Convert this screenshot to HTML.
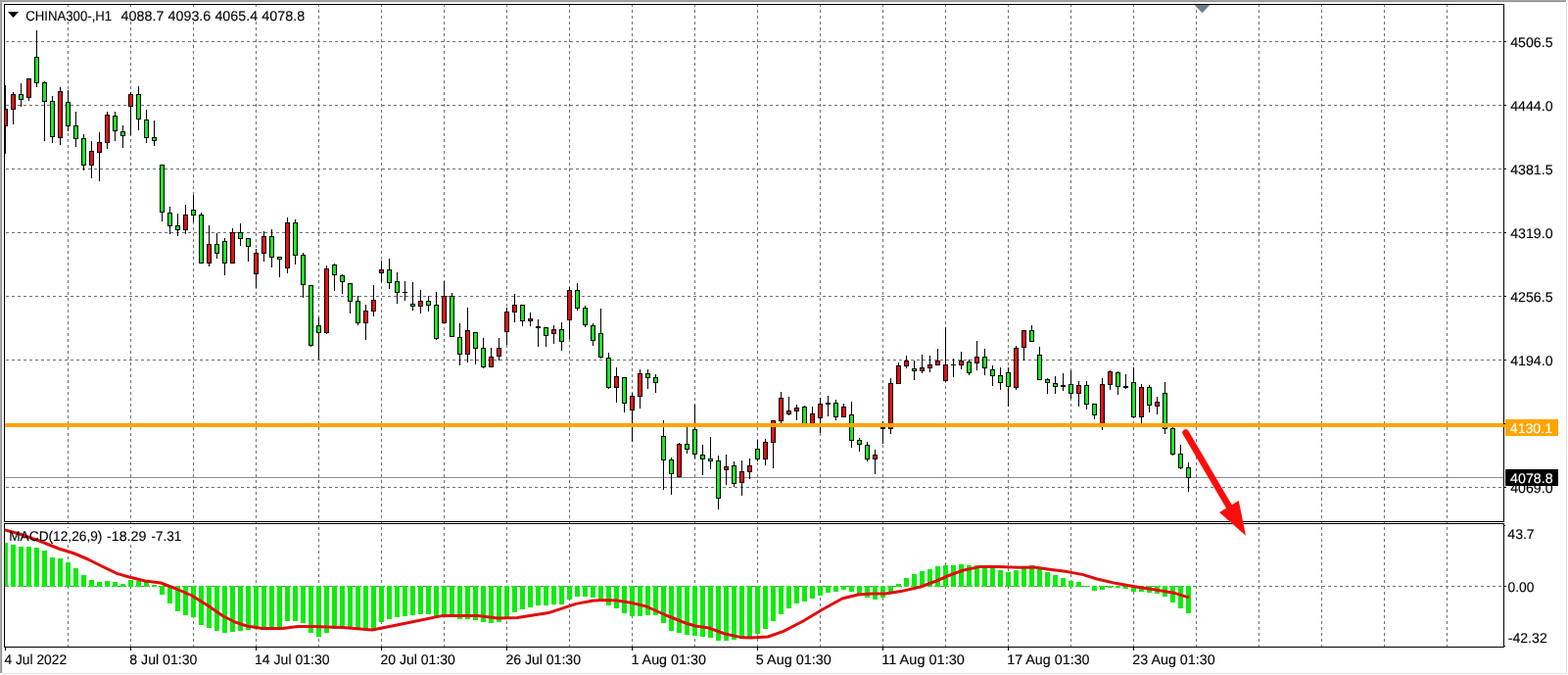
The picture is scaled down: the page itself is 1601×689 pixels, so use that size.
<!DOCTYPE html>
<html lang="en"><head><meta charset="utf-8"><title>CHINA300-,H1</title>
<style>
html,body{margin:0;padding:0;background:#fff;}
body{width:1601px;height:689px;overflow:hidden;}
svg{display:block;}
</style></head><body>
<svg width="1601" height="689" viewBox="0 0 1601 689" shape-rendering="crispEdges" font-family="'Liberation Sans', Arial, sans-serif" font-size="14px">
<defs><clipPath id="cm"><rect x="5" y="5" width="1530" height="527"/></clipPath><clipPath id="ci"><rect x="5" y="535" width="1530" height="125"/></clipPath></defs>
<rect x="0" y="0" width="1601" height="689" fill="#ffffff"/>
<rect x="0" y="0" width="1599" height="1" fill="#a6a6a6"/>
<rect x="0" y="1" width="1599" height="1" fill="#939393"/>
<rect x="0" y="2" width="1599" height="1" fill="#f4f4f4"/>
<rect x="0" y="0" width="1" height="687" fill="#a9a9a9"/>
<rect x="1" y="1" width="1" height="686" fill="#8f8f8f"/>
<rect x="2" y="2" width="1" height="685" fill="#f2f2f2"/>
<rect x="1599" y="2" width="1" height="686" fill="#dfdfe2"/>
<rect x="2" y="687" width="1598" height="1" fill="#e3e3e3"/>
<g id="grid" stroke="#6f6f73" stroke-width="1" fill="none" stroke-dasharray="3 3">
<line x1="69.5" y1="4" x2="69.5" y2="532"/>
<line x1="69.5" y1="532" x2="69.5" y2="660" stroke-dashoffset="0"/>
<line x1="133.5" y1="4" x2="133.5" y2="532"/>
<line x1="133.5" y1="532" x2="133.5" y2="660" stroke-dashoffset="0"/>
<line x1="197.5" y1="4" x2="197.5" y2="532"/>
<line x1="197.5" y1="532" x2="197.5" y2="660" stroke-dashoffset="0"/>
<line x1="261.5" y1="4" x2="261.5" y2="532"/>
<line x1="261.5" y1="532" x2="261.5" y2="660" stroke-dashoffset="0"/>
<line x1="325.5" y1="4" x2="325.5" y2="532"/>
<line x1="325.5" y1="532" x2="325.5" y2="660" stroke-dashoffset="0"/>
<line x1="389.5" y1="4" x2="389.5" y2="532"/>
<line x1="389.5" y1="532" x2="389.5" y2="660" stroke-dashoffset="0"/>
<line x1="453.5" y1="4" x2="453.5" y2="532"/>
<line x1="453.5" y1="532" x2="453.5" y2="660" stroke-dashoffset="0"/>
<line x1="517.5" y1="4" x2="517.5" y2="532"/>
<line x1="517.5" y1="532" x2="517.5" y2="660" stroke-dashoffset="0"/>
<line x1="581.5" y1="4" x2="581.5" y2="532"/>
<line x1="581.5" y1="532" x2="581.5" y2="660" stroke-dashoffset="0"/>
<line x1="645.5" y1="4" x2="645.5" y2="532"/>
<line x1="645.5" y1="532" x2="645.5" y2="660" stroke-dashoffset="0"/>
<line x1="709.5" y1="4" x2="709.5" y2="532"/>
<line x1="709.5" y1="532" x2="709.5" y2="660" stroke-dashoffset="0"/>
<line x1="773.5" y1="4" x2="773.5" y2="532"/>
<line x1="773.5" y1="532" x2="773.5" y2="660" stroke-dashoffset="0"/>
<line x1="837.5" y1="4" x2="837.5" y2="532"/>
<line x1="837.5" y1="532" x2="837.5" y2="660" stroke-dashoffset="0"/>
<line x1="901.5" y1="4" x2="901.5" y2="532"/>
<line x1="901.5" y1="532" x2="901.5" y2="660" stroke-dashoffset="0"/>
<line x1="965.5" y1="4" x2="965.5" y2="532"/>
<line x1="965.5" y1="532" x2="965.5" y2="660" stroke-dashoffset="0"/>
<line x1="1029.5" y1="4" x2="1029.5" y2="532"/>
<line x1="1029.5" y1="532" x2="1029.5" y2="660" stroke-dashoffset="0"/>
<line x1="1093.5" y1="4" x2="1093.5" y2="532"/>
<line x1="1093.5" y1="532" x2="1093.5" y2="660" stroke-dashoffset="0"/>
<line x1="1157.5" y1="4" x2="1157.5" y2="532"/>
<line x1="1157.5" y1="532" x2="1157.5" y2="660" stroke-dashoffset="0"/>
<line x1="1221.5" y1="4" x2="1221.5" y2="532"/>
<line x1="1221.5" y1="532" x2="1221.5" y2="660" stroke-dashoffset="0"/>
<line x1="1285.5" y1="4" x2="1285.5" y2="532"/>
<line x1="1285.5" y1="532" x2="1285.5" y2="660" stroke-dashoffset="0"/>
<line x1="1349.5" y1="4" x2="1349.5" y2="532"/>
<line x1="1349.5" y1="532" x2="1349.5" y2="660" stroke-dashoffset="0"/>
<line x1="1413.5" y1="4" x2="1413.5" y2="532"/>
<line x1="1413.5" y1="532" x2="1413.5" y2="660" stroke-dashoffset="0"/>
<line x1="1477.5" y1="4" x2="1477.5" y2="532"/>
<line x1="1477.5" y1="532" x2="1477.5" y2="660" stroke-dashoffset="0"/>
<line x1="6" y1="42.5" x2="1535" y2="42.5"/>
<line x1="6" y1="107.5" x2="1535" y2="107.5"/>
<line x1="6" y1="172.5" x2="1535" y2="172.5"/>
<line x1="6" y1="237.5" x2="1535" y2="237.5"/>
<line x1="6" y1="302.5" x2="1535" y2="302.5"/>
<line x1="6" y1="367.5" x2="1535" y2="367.5"/>
<line x1="6" y1="432.5" x2="1535" y2="432.5"/>
<line x1="6" y1="497.5" x2="1535" y2="497.5"/>
<line x1="6" y1="598.5" x2="1535" y2="598.5"/>
</g>
<rect x="24" y="8" width="289" height="14" fill="#fff"/>
<rect x="5" y="487" width="1530" height="1" fill="#8b9097"/>
<g id="candles" clip-path="url(#cm)">
<rect x="5" y="87" width="1" height="70" fill="#000"/>
<rect x="3" y="111" width="5" height="18" fill="#000"/>
<rect x="4" y="112" width="3" height="16" fill="#e61012"/>
<rect x="13" y="94" width="1" height="33" fill="#000"/>
<rect x="11" y="96" width="5" height="16" fill="#000"/>
<rect x="12" y="97" width="3" height="14" fill="#e61012"/>
<rect x="21" y="85" width="1" height="24" fill="#000"/>
<rect x="19" y="96" width="5" height="6" fill="#000"/>
<rect x="20" y="97" width="3" height="4" fill="#18ea20"/>
<rect x="29" y="80" width="1" height="23" fill="#000"/>
<rect x="27" y="80" width="5" height="20" fill="#000"/>
<rect x="28" y="81" width="3" height="18" fill="#e61012"/>
<rect x="37" y="31" width="1" height="58" fill="#000"/>
<rect x="35" y="58" width="5" height="27" fill="#000"/>
<rect x="36" y="59" width="3" height="25" fill="#18ea20"/>
<rect x="45" y="83" width="1" height="61" fill="#000"/>
<rect x="43" y="84" width="5" height="20" fill="#000"/>
<rect x="44" y="85" width="3" height="18" fill="#18ea20"/>
<rect x="53" y="98" width="1" height="48" fill="#000"/>
<rect x="51" y="103" width="5" height="37" fill="#000"/>
<rect x="52" y="104" width="3" height="35" fill="#18ea20"/>
<rect x="61" y="89" width="1" height="59" fill="#000"/>
<rect x="59" y="93" width="5" height="48" fill="#000"/>
<rect x="60" y="94" width="3" height="46" fill="#e61012"/>
<rect x="69" y="92" width="1" height="42" fill="#000"/>
<rect x="67" y="104" width="5" height="25" fill="#000"/>
<rect x="68" y="105" width="3" height="23" fill="#18ea20"/>
<rect x="77" y="114" width="1" height="36" fill="#000"/>
<rect x="75" y="128" width="5" height="14" fill="#000"/>
<rect x="76" y="129" width="3" height="12" fill="#18ea20"/>
<rect x="85" y="137" width="1" height="37" fill="#000"/>
<rect x="83" y="141" width="5" height="28" fill="#000"/>
<rect x="84" y="142" width="3" height="26" fill="#18ea20"/>
<rect x="93" y="144" width="1" height="38" fill="#000"/>
<rect x="91" y="154" width="5" height="15" fill="#000"/>
<rect x="92" y="155" width="3" height="13" fill="#e61012"/>
<rect x="101" y="135" width="1" height="50" fill="#000"/>
<rect x="99" y="145" width="5" height="11" fill="#000"/>
<rect x="100" y="146" width="3" height="9" fill="#e61012"/>
<rect x="109" y="114" width="1" height="38" fill="#000"/>
<rect x="107" y="117" width="5" height="29" fill="#000"/>
<rect x="108" y="118" width="3" height="27" fill="#e61012"/>
<rect x="117" y="114" width="1" height="30" fill="#000"/>
<rect x="115" y="118" width="5" height="16" fill="#000"/>
<rect x="116" y="119" width="3" height="14" fill="#18ea20"/>
<rect x="125" y="128" width="1" height="23" fill="#000"/>
<rect x="123" y="134" width="5" height="5" fill="#000"/>
<rect x="124" y="135" width="3" height="3" fill="#18ea20"/>
<rect x="133" y="94" width="1" height="44" fill="#000"/>
<rect x="131" y="96" width="5" height="13" fill="#000"/>
<rect x="132" y="97" width="3" height="11" fill="#e61012"/>
<rect x="141" y="88" width="1" height="45" fill="#000"/>
<rect x="139" y="96" width="5" height="26" fill="#000"/>
<rect x="140" y="97" width="3" height="24" fill="#18ea20"/>
<rect x="149" y="112" width="1" height="34" fill="#000"/>
<rect x="147" y="122" width="5" height="19" fill="#000"/>
<rect x="148" y="123" width="3" height="17" fill="#18ea20"/>
<rect x="157" y="123" width="1" height="26" fill="#000"/>
<rect x="155" y="140" width="5" height="4" fill="#000"/>
<rect x="156" y="141" width="3" height="2" fill="#18ea20"/>
<rect x="165" y="168" width="1" height="58" fill="#000"/>
<rect x="163" y="168" width="5" height="49" fill="#000"/>
<rect x="164" y="169" width="3" height="47" fill="#18ea20"/>
<rect x="173" y="211" width="1" height="28" fill="#000"/>
<rect x="171" y="217" width="5" height="14" fill="#000"/>
<rect x="172" y="218" width="3" height="12" fill="#18ea20"/>
<rect x="181" y="218" width="1" height="23" fill="#000"/>
<rect x="179" y="230" width="5" height="5" fill="#000"/>
<rect x="180" y="231" width="3" height="3" fill="#18ea20"/>
<rect x="189" y="209" width="1" height="30" fill="#000"/>
<rect x="187" y="219" width="5" height="16" fill="#000"/>
<rect x="188" y="220" width="3" height="14" fill="#e61012"/>
<rect x="197" y="199" width="1" height="28" fill="#000"/>
<rect x="195" y="214" width="5" height="6" fill="#000"/>
<rect x="196" y="215" width="3" height="4" fill="#18ea20"/>
<rect x="205" y="217" width="1" height="52" fill="#000"/>
<rect x="203" y="219" width="5" height="50" fill="#000"/>
<rect x="204" y="220" width="3" height="48" fill="#18ea20"/>
<rect x="213" y="230" width="1" height="42" fill="#000"/>
<rect x="211" y="249" width="5" height="20" fill="#000"/>
<rect x="212" y="250" width="3" height="18" fill="#e61012"/>
<rect x="221" y="238" width="1" height="26" fill="#000"/>
<rect x="219" y="249" width="5" height="10" fill="#000"/>
<rect x="220" y="250" width="3" height="8" fill="#18ea20"/>
<rect x="229" y="243" width="1" height="38" fill="#000"/>
<rect x="227" y="246" width="5" height="23" fill="#000"/>
<rect x="228" y="247" width="3" height="21" fill="#18ea20"/>
<rect x="237" y="233" width="1" height="36" fill="#000"/>
<rect x="235" y="237" width="5" height="32" fill="#000"/>
<rect x="236" y="238" width="3" height="30" fill="#e61012"/>
<rect x="245" y="228" width="1" height="23" fill="#000"/>
<rect x="243" y="237" width="5" height="7" fill="#000"/>
<rect x="244" y="238" width="3" height="5" fill="#18ea20"/>
<rect x="253" y="243" width="1" height="24" fill="#000"/>
<rect x="251" y="243" width="5" height="9" fill="#000"/>
<rect x="252" y="244" width="3" height="7" fill="#18ea20"/>
<rect x="261" y="254" width="1" height="40" fill="#000"/>
<rect x="259" y="258" width="5" height="22" fill="#000"/>
<rect x="260" y="259" width="3" height="20" fill="#e61012"/>
<rect x="269" y="236" width="1" height="31" fill="#000"/>
<rect x="267" y="241" width="5" height="18" fill="#000"/>
<rect x="268" y="242" width="3" height="16" fill="#e61012"/>
<rect x="277" y="234" width="1" height="39" fill="#000"/>
<rect x="275" y="241" width="5" height="22" fill="#000"/>
<rect x="276" y="242" width="3" height="20" fill="#18ea20"/>
<rect x="285" y="262" width="1" height="21" fill="#000"/>
<rect x="283" y="262" width="5" height="3" fill="#000"/>
<rect x="284" y="263" width="3" height="1" fill="#18ea20"/>
<rect x="293" y="222" width="1" height="57" fill="#000"/>
<rect x="291" y="227" width="5" height="47" fill="#000"/>
<rect x="292" y="228" width="3" height="45" fill="#e61012"/>
<rect x="301" y="224" width="1" height="46" fill="#000"/>
<rect x="299" y="227" width="5" height="34" fill="#000"/>
<rect x="300" y="228" width="3" height="32" fill="#18ea20"/>
<rect x="309" y="258" width="1" height="46" fill="#000"/>
<rect x="307" y="260" width="5" height="31" fill="#000"/>
<rect x="308" y="261" width="3" height="29" fill="#18ea20"/>
<rect x="317" y="291" width="1" height="63" fill="#000"/>
<rect x="315" y="291" width="5" height="62" fill="#000"/>
<rect x="316" y="292" width="3" height="60" fill="#18ea20"/>
<rect x="325" y="324" width="1" height="43" fill="#000"/>
<rect x="323" y="332" width="5" height="8" fill="#000"/>
<rect x="324" y="333" width="3" height="6" fill="#18ea20"/>
<rect x="333" y="271" width="1" height="70" fill="#000"/>
<rect x="331" y="274" width="5" height="66" fill="#000"/>
<rect x="332" y="275" width="3" height="64" fill="#e61012"/>
<rect x="341" y="269" width="1" height="28" fill="#000"/>
<rect x="339" y="270" width="5" height="11" fill="#000"/>
<rect x="340" y="271" width="3" height="9" fill="#18ea20"/>
<rect x="349" y="280" width="1" height="20" fill="#000"/>
<rect x="347" y="281" width="5" height="7" fill="#000"/>
<rect x="348" y="282" width="3" height="5" fill="#18ea20"/>
<rect x="357" y="289" width="1" height="31" fill="#000"/>
<rect x="355" y="289" width="5" height="19" fill="#000"/>
<rect x="356" y="290" width="3" height="17" fill="#18ea20"/>
<rect x="365" y="302" width="1" height="30" fill="#000"/>
<rect x="363" y="307" width="5" height="23" fill="#000"/>
<rect x="364" y="308" width="3" height="21" fill="#18ea20"/>
<rect x="373" y="311" width="1" height="36" fill="#000"/>
<rect x="371" y="317" width="5" height="13" fill="#000"/>
<rect x="372" y="318" width="3" height="11" fill="#e61012"/>
<rect x="381" y="291" width="1" height="32" fill="#000"/>
<rect x="379" y="306" width="5" height="12" fill="#000"/>
<rect x="380" y="307" width="3" height="10" fill="#e61012"/>
<rect x="389" y="266" width="1" height="22" fill="#000"/>
<rect x="387" y="275" width="5" height="4" fill="#000"/>
<rect x="388" y="276" width="3" height="2" fill="#e61012"/>
<rect x="397" y="264" width="1" height="31" fill="#000"/>
<rect x="395" y="275" width="5" height="14" fill="#000"/>
<rect x="396" y="276" width="3" height="12" fill="#18ea20"/>
<rect x="405" y="278" width="1" height="32" fill="#000"/>
<rect x="403" y="287" width="5" height="12" fill="#000"/>
<rect x="404" y="288" width="3" height="10" fill="#18ea20"/>
<rect x="413" y="287" width="1" height="20" fill="#000"/>
<rect x="411" y="298" width="5" height="1" fill="#000"/>
<rect x="421" y="288" width="1" height="29" fill="#000"/>
<rect x="419" y="310" width="5" height="3" fill="#000"/>
<rect x="420" y="311" width="3" height="1" fill="#18ea20"/>
<rect x="429" y="296" width="1" height="24" fill="#000"/>
<rect x="427" y="307" width="5" height="6" fill="#000"/>
<rect x="428" y="308" width="3" height="4" fill="#e61012"/>
<rect x="437" y="302" width="1" height="16" fill="#000"/>
<rect x="435" y="307" width="5" height="5" fill="#000"/>
<rect x="436" y="308" width="3" height="3" fill="#18ea20"/>
<rect x="445" y="298" width="1" height="49" fill="#000"/>
<rect x="443" y="311" width="5" height="35" fill="#000"/>
<rect x="444" y="312" width="3" height="33" fill="#18ea20"/>
<rect x="453" y="287" width="1" height="43" fill="#000"/>
<rect x="451" y="302" width="5" height="28" fill="#000"/>
<rect x="452" y="303" width="3" height="26" fill="#e61012"/>
<rect x="461" y="299" width="1" height="45" fill="#000"/>
<rect x="459" y="302" width="5" height="42" fill="#000"/>
<rect x="460" y="303" width="3" height="40" fill="#18ea20"/>
<rect x="469" y="330" width="1" height="43" fill="#000"/>
<rect x="467" y="344" width="5" height="18" fill="#000"/>
<rect x="468" y="345" width="3" height="16" fill="#18ea20"/>
<rect x="477" y="314" width="1" height="56" fill="#000"/>
<rect x="475" y="337" width="5" height="25" fill="#000"/>
<rect x="476" y="338" width="3" height="23" fill="#e61012"/>
<rect x="485" y="339" width="1" height="33" fill="#000"/>
<rect x="483" y="339" width="5" height="17" fill="#000"/>
<rect x="484" y="340" width="3" height="15" fill="#18ea20"/>
<rect x="493" y="345" width="1" height="31" fill="#000"/>
<rect x="491" y="355" width="5" height="20" fill="#000"/>
<rect x="492" y="356" width="3" height="18" fill="#18ea20"/>
<rect x="501" y="355" width="1" height="20" fill="#000"/>
<rect x="499" y="364" width="5" height="11" fill="#000"/>
<rect x="500" y="365" width="3" height="9" fill="#e61012"/>
<rect x="509" y="345" width="1" height="23" fill="#000"/>
<rect x="507" y="355" width="5" height="9" fill="#000"/>
<rect x="508" y="356" width="3" height="7" fill="#e61012"/>
<rect x="517" y="314" width="1" height="38" fill="#000"/>
<rect x="515" y="318" width="5" height="21" fill="#000"/>
<rect x="516" y="319" width="3" height="19" fill="#e61012"/>
<rect x="525" y="300" width="1" height="29" fill="#000"/>
<rect x="523" y="311" width="5" height="8" fill="#000"/>
<rect x="524" y="312" width="3" height="6" fill="#e61012"/>
<rect x="533" y="311" width="1" height="22" fill="#000"/>
<rect x="531" y="311" width="5" height="17" fill="#000"/>
<rect x="532" y="312" width="3" height="15" fill="#18ea20"/>
<rect x="541" y="319" width="1" height="14" fill="#000"/>
<rect x="539" y="325" width="5" height="3" fill="#000"/>
<rect x="540" y="326" width="3" height="1" fill="#e61012"/>
<rect x="549" y="326" width="1" height="28" fill="#000"/>
<rect x="547" y="333" width="5" height="2" fill="#000"/>
<rect x="557" y="334" width="1" height="20" fill="#000"/>
<rect x="555" y="334" width="5" height="9" fill="#000"/>
<rect x="556" y="335" width="3" height="7" fill="#18ea20"/>
<rect x="565" y="332" width="1" height="19" fill="#000"/>
<rect x="563" y="336" width="5" height="5" fill="#000"/>
<rect x="564" y="337" width="3" height="3" fill="#e61012"/>
<rect x="573" y="329" width="1" height="29" fill="#000"/>
<rect x="571" y="336" width="5" height="13" fill="#000"/>
<rect x="572" y="337" width="3" height="11" fill="#18ea20"/>
<rect x="581" y="293" width="1" height="53" fill="#000"/>
<rect x="579" y="296" width="5" height="31" fill="#000"/>
<rect x="580" y="297" width="3" height="29" fill="#e61012"/>
<rect x="589" y="289" width="1" height="28" fill="#000"/>
<rect x="587" y="296" width="5" height="19" fill="#000"/>
<rect x="588" y="297" width="3" height="17" fill="#18ea20"/>
<rect x="597" y="312" width="1" height="22" fill="#000"/>
<rect x="595" y="314" width="5" height="18" fill="#000"/>
<rect x="596" y="315" width="3" height="16" fill="#18ea20"/>
<rect x="605" y="330" width="1" height="23" fill="#000"/>
<rect x="603" y="332" width="5" height="16" fill="#000"/>
<rect x="604" y="333" width="3" height="14" fill="#18ea20"/>
<rect x="613" y="315" width="1" height="51" fill="#000"/>
<rect x="611" y="340" width="5" height="25" fill="#000"/>
<rect x="612" y="341" width="3" height="23" fill="#18ea20"/>
<rect x="621" y="360" width="1" height="37" fill="#000"/>
<rect x="619" y="365" width="5" height="31" fill="#000"/>
<rect x="620" y="366" width="3" height="29" fill="#18ea20"/>
<rect x="629" y="375" width="1" height="36" fill="#000"/>
<rect x="627" y="384" width="5" height="12" fill="#000"/>
<rect x="628" y="385" width="3" height="10" fill="#e61012"/>
<rect x="637" y="385" width="1" height="36" fill="#000"/>
<rect x="635" y="385" width="5" height="27" fill="#000"/>
<rect x="636" y="386" width="3" height="25" fill="#18ea20"/>
<rect x="645" y="401" width="1" height="50" fill="#000"/>
<rect x="643" y="404" width="5" height="15" fill="#000"/>
<rect x="644" y="405" width="3" height="13" fill="#e61012"/>
<rect x="653" y="377" width="1" height="40" fill="#000"/>
<rect x="651" y="381" width="5" height="24" fill="#000"/>
<rect x="652" y="382" width="3" height="22" fill="#e61012"/>
<rect x="661" y="377" width="1" height="20" fill="#000"/>
<rect x="659" y="381" width="5" height="5" fill="#000"/>
<rect x="660" y="382" width="3" height="3" fill="#18ea20"/>
<rect x="669" y="382" width="1" height="19" fill="#000"/>
<rect x="667" y="385" width="5" height="6" fill="#000"/>
<rect x="668" y="386" width="3" height="4" fill="#18ea20"/>
<rect x="677" y="429" width="1" height="71" fill="#000"/>
<rect x="675" y="445" width="5" height="25" fill="#000"/>
<rect x="676" y="446" width="3" height="23" fill="#18ea20"/>
<rect x="685" y="467" width="1" height="38" fill="#000"/>
<rect x="683" y="469" width="5" height="15" fill="#000"/>
<rect x="684" y="470" width="3" height="13" fill="#18ea20"/>
<rect x="693" y="452" width="1" height="35" fill="#000"/>
<rect x="691" y="453" width="5" height="34" fill="#000"/>
<rect x="692" y="454" width="3" height="32" fill="#e61012"/>
<rect x="701" y="436" width="1" height="27" fill="#000"/>
<rect x="699" y="453" width="5" height="6" fill="#000"/>
<rect x="700" y="454" width="3" height="4" fill="#18ea20"/>
<rect x="709" y="413" width="1" height="55" fill="#000"/>
<rect x="707" y="438" width="5" height="26" fill="#000"/>
<rect x="708" y="439" width="3" height="24" fill="#18ea20"/>
<rect x="717" y="454" width="1" height="31" fill="#000"/>
<rect x="715" y="464" width="5" height="5" fill="#000"/>
<rect x="716" y="465" width="3" height="3" fill="#18ea20"/>
<rect x="725" y="446" width="1" height="33" fill="#000"/>
<rect x="723" y="468" width="5" height="3" fill="#000"/>
<rect x="724" y="469" width="3" height="1" fill="#18ea20"/>
<rect x="733" y="465" width="1" height="55" fill="#000"/>
<rect x="731" y="470" width="5" height="39" fill="#000"/>
<rect x="732" y="471" width="3" height="37" fill="#18ea20"/>
<rect x="741" y="464" width="1" height="31" fill="#000"/>
<rect x="739" y="476" width="5" height="4" fill="#000"/>
<rect x="740" y="477" width="3" height="2" fill="#e61012"/>
<rect x="749" y="471" width="1" height="26" fill="#000"/>
<rect x="747" y="475" width="5" height="19" fill="#000"/>
<rect x="748" y="476" width="3" height="17" fill="#18ea20"/>
<rect x="757" y="470" width="1" height="36" fill="#000"/>
<rect x="755" y="481" width="5" height="12" fill="#000"/>
<rect x="756" y="482" width="3" height="10" fill="#e61012"/>
<rect x="765" y="468" width="1" height="21" fill="#000"/>
<rect x="763" y="475" width="5" height="7" fill="#000"/>
<rect x="764" y="476" width="3" height="5" fill="#e61012"/>
<rect x="773" y="449" width="1" height="22" fill="#000"/>
<rect x="771" y="458" width="5" height="11" fill="#000"/>
<rect x="772" y="459" width="3" height="9" fill="#18ea20"/>
<rect x="781" y="448" width="1" height="27" fill="#000"/>
<rect x="779" y="451" width="5" height="18" fill="#000"/>
<rect x="780" y="452" width="3" height="16" fill="#e61012"/>
<rect x="789" y="429" width="1" height="49" fill="#000"/>
<rect x="787" y="429" width="5" height="23" fill="#000"/>
<rect x="788" y="430" width="3" height="21" fill="#e61012"/>
<rect x="797" y="400" width="1" height="33" fill="#000"/>
<rect x="795" y="406" width="5" height="24" fill="#000"/>
<rect x="796" y="407" width="3" height="22" fill="#e61012"/>
<rect x="805" y="405" width="1" height="19" fill="#000"/>
<rect x="803" y="419" width="5" height="4" fill="#000"/>
<rect x="804" y="420" width="3" height="2" fill="#e61012"/>
<rect x="813" y="413" width="1" height="16" fill="#000"/>
<rect x="811" y="416" width="5" height="4" fill="#000"/>
<rect x="812" y="417" width="3" height="2" fill="#e61012"/>
<rect x="821" y="414" width="1" height="20" fill="#000"/>
<rect x="819" y="415" width="5" height="18" fill="#000"/>
<rect x="820" y="416" width="3" height="16" fill="#18ea20"/>
<rect x="829" y="415" width="1" height="19" fill="#000"/>
<rect x="827" y="422" width="5" height="11" fill="#000"/>
<rect x="828" y="423" width="3" height="9" fill="#e61012"/>
<rect x="837" y="406" width="1" height="36" fill="#000"/>
<rect x="835" y="412" width="5" height="15" fill="#000"/>
<rect x="836" y="413" width="3" height="13" fill="#e61012"/>
<rect x="845" y="404" width="1" height="21" fill="#000"/>
<rect x="843" y="411" width="5" height="2" fill="#000"/>
<rect x="853" y="408" width="1" height="21" fill="#000"/>
<rect x="851" y="411" width="5" height="15" fill="#000"/>
<rect x="852" y="412" width="3" height="13" fill="#18ea20"/>
<rect x="861" y="412" width="1" height="14" fill="#000"/>
<rect x="859" y="415" width="5" height="11" fill="#000"/>
<rect x="860" y="416" width="3" height="9" fill="#e61012"/>
<rect x="869" y="410" width="1" height="47" fill="#000"/>
<rect x="867" y="423" width="5" height="27" fill="#000"/>
<rect x="868" y="424" width="3" height="25" fill="#18ea20"/>
<rect x="877" y="447" width="1" height="14" fill="#000"/>
<rect x="875" y="449" width="5" height="5" fill="#000"/>
<rect x="876" y="450" width="3" height="3" fill="#18ea20"/>
<rect x="885" y="451" width="1" height="20" fill="#000"/>
<rect x="883" y="454" width="5" height="15" fill="#000"/>
<rect x="884" y="455" width="3" height="13" fill="#18ea20"/>
<rect x="893" y="459" width="1" height="25" fill="#000"/>
<rect x="891" y="464" width="5" height="5" fill="#000"/>
<rect x="892" y="465" width="3" height="3" fill="#e61012"/>
<rect x="901" y="430" width="1" height="23" fill="#000"/>
<rect x="899" y="436" width="5" height="2" fill="#000"/>
<rect x="909" y="386" width="1" height="57" fill="#000"/>
<rect x="907" y="391" width="5" height="47" fill="#000"/>
<rect x="908" y="392" width="3" height="45" fill="#e61012"/>
<rect x="917" y="370" width="1" height="22" fill="#000"/>
<rect x="915" y="373" width="5" height="19" fill="#000"/>
<rect x="916" y="374" width="3" height="17" fill="#e61012"/>
<rect x="925" y="363" width="1" height="13" fill="#000"/>
<rect x="923" y="368" width="5" height="6" fill="#000"/>
<rect x="924" y="369" width="3" height="4" fill="#e61012"/>
<rect x="933" y="368" width="1" height="20" fill="#000"/>
<rect x="931" y="376" width="5" height="3" fill="#000"/>
<rect x="932" y="377" width="3" height="1" fill="#18ea20"/>
<rect x="941" y="362" width="1" height="19" fill="#000"/>
<rect x="939" y="375" width="5" height="4" fill="#000"/>
<rect x="940" y="376" width="3" height="2" fill="#e61012"/>
<rect x="949" y="363" width="1" height="17" fill="#000"/>
<rect x="947" y="372" width="5" height="4" fill="#000"/>
<rect x="948" y="373" width="3" height="2" fill="#e61012"/>
<rect x="957" y="356" width="1" height="17" fill="#000"/>
<rect x="955" y="368" width="5" height="5" fill="#000"/>
<rect x="956" y="369" width="3" height="3" fill="#e61012"/>
<rect x="965" y="334" width="1" height="56" fill="#000"/>
<rect x="963" y="372" width="5" height="17" fill="#000"/>
<rect x="964" y="373" width="3" height="15" fill="#e61012"/>
<rect x="973" y="366" width="1" height="19" fill="#000"/>
<rect x="971" y="372" width="5" height="1" fill="#000"/>
<rect x="981" y="359" width="1" height="18" fill="#000"/>
<rect x="979" y="368" width="5" height="5" fill="#000"/>
<rect x="980" y="369" width="3" height="3" fill="#e61012"/>
<rect x="989" y="367" width="1" height="16" fill="#000"/>
<rect x="987" y="369" width="5" height="12" fill="#000"/>
<rect x="988" y="370" width="3" height="10" fill="#18ea20"/>
<rect x="997" y="348" width="1" height="30" fill="#000"/>
<rect x="995" y="364" width="5" height="7" fill="#000"/>
<rect x="996" y="365" width="3" height="5" fill="#e61012"/>
<rect x="1005" y="356" width="1" height="27" fill="#000"/>
<rect x="1003" y="364" width="5" height="12" fill="#000"/>
<rect x="1004" y="365" width="3" height="10" fill="#18ea20"/>
<rect x="1013" y="373" width="1" height="21" fill="#000"/>
<rect x="1011" y="377" width="5" height="7" fill="#000"/>
<rect x="1012" y="378" width="3" height="5" fill="#18ea20"/>
<rect x="1021" y="375" width="1" height="23" fill="#000"/>
<rect x="1019" y="383" width="5" height="8" fill="#000"/>
<rect x="1020" y="384" width="3" height="6" fill="#18ea20"/>
<rect x="1029" y="375" width="1" height="40" fill="#000"/>
<rect x="1027" y="380" width="5" height="15" fill="#000"/>
<rect x="1028" y="381" width="3" height="13" fill="#18ea20"/>
<rect x="1037" y="353" width="1" height="45" fill="#000"/>
<rect x="1035" y="355" width="5" height="41" fill="#000"/>
<rect x="1036" y="356" width="3" height="39" fill="#e61012"/>
<rect x="1045" y="337" width="1" height="31" fill="#000"/>
<rect x="1043" y="337" width="5" height="18" fill="#000"/>
<rect x="1044" y="338" width="3" height="16" fill="#e61012"/>
<rect x="1053" y="332" width="1" height="17" fill="#000"/>
<rect x="1051" y="337" width="5" height="12" fill="#000"/>
<rect x="1052" y="338" width="3" height="10" fill="#18ea20"/>
<rect x="1061" y="354" width="1" height="34" fill="#000"/>
<rect x="1059" y="362" width="5" height="26" fill="#000"/>
<rect x="1060" y="363" width="3" height="24" fill="#18ea20"/>
<rect x="1069" y="386" width="1" height="16" fill="#000"/>
<rect x="1067" y="387" width="5" height="4" fill="#000"/>
<rect x="1068" y="388" width="3" height="2" fill="#18ea20"/>
<rect x="1077" y="384" width="1" height="18" fill="#000"/>
<rect x="1075" y="391" width="5" height="4" fill="#000"/>
<rect x="1076" y="392" width="3" height="2" fill="#18ea20"/>
<rect x="1085" y="381" width="1" height="18" fill="#000"/>
<rect x="1083" y="393" width="5" height="2" fill="#000"/>
<rect x="1093" y="378" width="1" height="29" fill="#000"/>
<rect x="1091" y="392" width="5" height="10" fill="#000"/>
<rect x="1092" y="393" width="3" height="8" fill="#18ea20"/>
<rect x="1101" y="389" width="1" height="26" fill="#000"/>
<rect x="1099" y="393" width="5" height="9" fill="#000"/>
<rect x="1100" y="394" width="3" height="7" fill="#e61012"/>
<rect x="1109" y="389" width="1" height="29" fill="#000"/>
<rect x="1107" y="393" width="5" height="20" fill="#000"/>
<rect x="1108" y="394" width="3" height="18" fill="#18ea20"/>
<rect x="1117" y="412" width="1" height="16" fill="#000"/>
<rect x="1115" y="412" width="5" height="12" fill="#000"/>
<rect x="1116" y="413" width="3" height="10" fill="#18ea20"/>
<rect x="1125" y="386" width="1" height="53" fill="#000"/>
<rect x="1123" y="392" width="5" height="43" fill="#000"/>
<rect x="1124" y="393" width="3" height="41" fill="#e61012"/>
<rect x="1133" y="378" width="1" height="20" fill="#000"/>
<rect x="1131" y="379" width="5" height="14" fill="#000"/>
<rect x="1132" y="380" width="3" height="12" fill="#e61012"/>
<rect x="1141" y="379" width="1" height="24" fill="#000"/>
<rect x="1139" y="380" width="5" height="15" fill="#000"/>
<rect x="1140" y="381" width="3" height="13" fill="#18ea20"/>
<rect x="1149" y="382" width="1" height="15" fill="#000"/>
<rect x="1147" y="394" width="5" height="2" fill="#000"/>
<rect x="1157" y="375" width="1" height="52" fill="#000"/>
<rect x="1155" y="390" width="5" height="36" fill="#000"/>
<rect x="1156" y="391" width="3" height="34" fill="#18ea20"/>
<rect x="1165" y="392" width="1" height="40" fill="#000"/>
<rect x="1163" y="395" width="5" height="31" fill="#000"/>
<rect x="1164" y="396" width="3" height="29" fill="#e61012"/>
<rect x="1173" y="393" width="1" height="28" fill="#000"/>
<rect x="1171" y="395" width="5" height="19" fill="#000"/>
<rect x="1172" y="396" width="3" height="17" fill="#18ea20"/>
<rect x="1181" y="405" width="1" height="18" fill="#000"/>
<rect x="1179" y="410" width="5" height="5" fill="#000"/>
<rect x="1180" y="411" width="3" height="3" fill="#e61012"/>
<rect x="1189" y="390" width="1" height="53" fill="#000"/>
<rect x="1187" y="401" width="5" height="37" fill="#000"/>
<rect x="1188" y="402" width="3" height="35" fill="#18ea20"/>
<rect x="1197" y="436" width="1" height="29" fill="#000"/>
<rect x="1195" y="437" width="5" height="27" fill="#000"/>
<rect x="1196" y="438" width="3" height="25" fill="#18ea20"/>
<rect x="1205" y="454" width="1" height="25" fill="#000"/>
<rect x="1203" y="463" width="5" height="15" fill="#000"/>
<rect x="1204" y="464" width="3" height="13" fill="#18ea20"/>
<rect x="1213" y="472" width="1" height="30" fill="#000"/>
<rect x="1211" y="477" width="5" height="11" fill="#000"/>
<rect x="1212" y="478" width="3" height="9" fill="#18ea20"/>
</g>
<rect x="8" y="539" width="178" height="15" fill="#fff"/>
<g id="macd" clip-path="url(#ci)">
<rect x="3" y="554" width="5" height="45" fill="#0cec0c"/>
<rect x="11" y="556" width="5" height="43" fill="#0cec0c"/>
<rect x="19" y="558" width="5" height="41" fill="#0cec0c"/>
<rect x="27" y="558" width="5" height="41" fill="#0cec0c"/>
<rect x="35" y="559" width="5" height="40" fill="#0cec0c"/>
<rect x="43" y="562" width="5" height="37" fill="#0cec0c"/>
<rect x="51" y="569" width="5" height="30" fill="#0cec0c"/>
<rect x="59" y="570" width="5" height="29" fill="#0cec0c"/>
<rect x="67" y="574" width="5" height="25" fill="#0cec0c"/>
<rect x="75" y="580" width="5" height="19" fill="#0cec0c"/>
<rect x="83" y="587" width="5" height="12" fill="#0cec0c"/>
<rect x="91" y="592" width="5" height="7" fill="#0cec0c"/>
<rect x="99" y="594" width="5" height="5" fill="#0cec0c"/>
<rect x="107" y="593" width="5" height="6" fill="#0cec0c"/>
<rect x="115" y="594" width="5" height="5" fill="#0cec0c"/>
<rect x="123" y="596" width="5" height="3" fill="#0cec0c"/>
<rect x="131" y="592" width="5" height="7" fill="#0cec0c"/>
<rect x="139" y="593" width="5" height="6" fill="#0cec0c"/>
<rect x="147" y="594" width="5" height="5" fill="#0cec0c"/>
<rect x="155" y="597" width="5" height="2" fill="#0cec0c"/>
<rect x="163" y="598" width="5" height="9" fill="#0cec0c"/>
<rect x="171" y="598" width="5" height="18" fill="#0cec0c"/>
<rect x="179" y="598" width="5" height="26" fill="#0cec0c"/>
<rect x="187" y="598" width="5" height="30" fill="#0cec0c"/>
<rect x="195" y="598" width="5" height="32" fill="#0cec0c"/>
<rect x="203" y="598" width="5" height="40" fill="#0cec0c"/>
<rect x="211" y="598" width="5" height="43" fill="#0cec0c"/>
<rect x="219" y="598" width="5" height="46" fill="#0cec0c"/>
<rect x="227" y="598" width="5" height="48" fill="#0cec0c"/>
<rect x="235" y="598" width="5" height="47" fill="#0cec0c"/>
<rect x="243" y="598" width="5" height="46" fill="#0cec0c"/>
<rect x="251" y="598" width="5" height="45" fill="#0cec0c"/>
<rect x="259" y="598" width="5" height="44" fill="#0cec0c"/>
<rect x="267" y="598" width="5" height="42" fill="#0cec0c"/>
<rect x="275" y="598" width="5" height="42" fill="#0cec0c"/>
<rect x="283" y="598" width="5" height="42" fill="#0cec0c"/>
<rect x="291" y="598" width="5" height="36" fill="#0cec0c"/>
<rect x="299" y="598" width="5" height="36" fill="#0cec0c"/>
<rect x="307" y="598" width="5" height="38" fill="#0cec0c"/>
<rect x="315" y="598" width="5" height="48" fill="#0cec0c"/>
<rect x="323" y="598" width="5" height="52" fill="#0cec0c"/>
<rect x="331" y="598" width="5" height="48" fill="#0cec0c"/>
<rect x="339" y="598" width="5" height="44" fill="#0cec0c"/>
<rect x="347" y="598" width="5" height="43" fill="#0cec0c"/>
<rect x="355" y="598" width="5" height="43" fill="#0cec0c"/>
<rect x="363" y="598" width="5" height="43" fill="#0cec0c"/>
<rect x="371" y="598" width="5" height="44" fill="#0cec0c"/>
<rect x="379" y="598" width="5" height="44" fill="#0cec0c"/>
<rect x="387" y="598" width="5" height="37" fill="#0cec0c"/>
<rect x="395" y="598" width="5" height="34" fill="#0cec0c"/>
<rect x="403" y="598" width="5" height="32" fill="#0cec0c"/>
<rect x="411" y="598" width="5" height="31" fill="#0cec0c"/>
<rect x="419" y="598" width="5" height="30" fill="#0cec0c"/>
<rect x="427" y="598" width="5" height="29" fill="#0cec0c"/>
<rect x="435" y="598" width="5" height="29" fill="#0cec0c"/>
<rect x="443" y="598" width="5" height="31" fill="#0cec0c"/>
<rect x="451" y="598" width="5" height="30" fill="#0cec0c"/>
<rect x="459" y="598" width="5" height="31" fill="#0cec0c"/>
<rect x="467" y="598" width="5" height="34" fill="#0cec0c"/>
<rect x="475" y="598" width="5" height="34" fill="#0cec0c"/>
<rect x="483" y="598" width="5" height="35" fill="#0cec0c"/>
<rect x="491" y="598" width="5" height="37" fill="#0cec0c"/>
<rect x="499" y="598" width="5" height="38" fill="#0cec0c"/>
<rect x="507" y="598" width="5" height="37" fill="#0cec0c"/>
<rect x="515" y="598" width="5" height="32" fill="#0cec0c"/>
<rect x="523" y="598" width="5" height="27" fill="#0cec0c"/>
<rect x="531" y="598" width="5" height="24" fill="#0cec0c"/>
<rect x="539" y="598" width="5" height="22" fill="#0cec0c"/>
<rect x="547" y="598" width="5" height="20" fill="#0cec0c"/>
<rect x="555" y="598" width="5" height="20" fill="#0cec0c"/>
<rect x="563" y="598" width="5" height="19" fill="#0cec0c"/>
<rect x="571" y="598" width="5" height="19" fill="#0cec0c"/>
<rect x="579" y="598" width="5" height="14" fill="#0cec0c"/>
<rect x="587" y="598" width="5" height="11" fill="#0cec0c"/>
<rect x="595" y="598" width="5" height="11" fill="#0cec0c"/>
<rect x="603" y="598" width="5" height="12" fill="#0cec0c"/>
<rect x="611" y="598" width="5" height="15" fill="#0cec0c"/>
<rect x="619" y="598" width="5" height="20" fill="#0cec0c"/>
<rect x="627" y="598" width="5" height="23" fill="#0cec0c"/>
<rect x="635" y="598" width="5" height="28" fill="#0cec0c"/>
<rect x="643" y="598" width="5" height="31" fill="#0cec0c"/>
<rect x="651" y="598" width="5" height="31" fill="#0cec0c"/>
<rect x="659" y="598" width="5" height="30" fill="#0cec0c"/>
<rect x="667" y="598" width="5" height="30" fill="#0cec0c"/>
<rect x="675" y="598" width="5" height="38" fill="#0cec0c"/>
<rect x="683" y="598" width="5" height="46" fill="#0cec0c"/>
<rect x="691" y="598" width="5" height="48" fill="#0cec0c"/>
<rect x="699" y="598" width="5" height="50" fill="#0cec0c"/>
<rect x="707" y="598" width="5" height="51" fill="#0cec0c"/>
<rect x="715" y="598" width="5" height="52" fill="#0cec0c"/>
<rect x="723" y="598" width="5" height="53" fill="#0cec0c"/>
<rect x="731" y="598" width="5" height="56" fill="#0cec0c"/>
<rect x="739" y="598" width="5" height="56" fill="#0cec0c"/>
<rect x="747" y="598" width="5" height="55" fill="#0cec0c"/>
<rect x="755" y="598" width="5" height="54" fill="#0cec0c"/>
<rect x="763" y="598" width="5" height="53" fill="#0cec0c"/>
<rect x="771" y="598" width="5" height="49" fill="#0cec0c"/>
<rect x="779" y="598" width="5" height="44" fill="#0cec0c"/>
<rect x="787" y="598" width="5" height="36" fill="#0cec0c"/>
<rect x="795" y="598" width="5" height="29" fill="#0cec0c"/>
<rect x="803" y="598" width="5" height="23" fill="#0cec0c"/>
<rect x="811" y="598" width="5" height="18" fill="#0cec0c"/>
<rect x="819" y="598" width="5" height="16" fill="#0cec0c"/>
<rect x="827" y="598" width="5" height="13" fill="#0cec0c"/>
<rect x="835" y="598" width="5" height="10" fill="#0cec0c"/>
<rect x="843" y="598" width="5" height="7" fill="#0cec0c"/>
<rect x="851" y="598" width="5" height="6" fill="#0cec0c"/>
<rect x="859" y="598" width="5" height="4" fill="#0cec0c"/>
<rect x="867" y="598" width="5" height="6" fill="#0cec0c"/>
<rect x="875" y="598" width="5" height="9" fill="#0cec0c"/>
<rect x="883" y="598" width="5" height="12" fill="#0cec0c"/>
<rect x="891" y="598" width="5" height="14" fill="#0cec0c"/>
<rect x="899" y="598" width="5" height="12" fill="#0cec0c"/>
<rect x="907" y="598" width="5" height="6" fill="#0cec0c"/>
<rect x="915" y="596" width="5" height="3" fill="#0cec0c"/>
<rect x="923" y="590" width="5" height="9" fill="#0cec0c"/>
<rect x="931" y="586" width="5" height="13" fill="#0cec0c"/>
<rect x="939" y="583" width="5" height="16" fill="#0cec0c"/>
<rect x="947" y="581" width="5" height="18" fill="#0cec0c"/>
<rect x="955" y="578" width="5" height="21" fill="#0cec0c"/>
<rect x="963" y="577" width="5" height="22" fill="#0cec0c"/>
<rect x="971" y="577" width="5" height="22" fill="#0cec0c"/>
<rect x="979" y="576" width="5" height="23" fill="#0cec0c"/>
<rect x="987" y="577" width="5" height="22" fill="#0cec0c"/>
<rect x="995" y="577" width="5" height="22" fill="#0cec0c"/>
<rect x="1003" y="578" width="5" height="21" fill="#0cec0c"/>
<rect x="1011" y="580" width="5" height="19" fill="#0cec0c"/>
<rect x="1019" y="582" width="5" height="17" fill="#0cec0c"/>
<rect x="1027" y="584" width="5" height="15" fill="#0cec0c"/>
<rect x="1035" y="582" width="5" height="17" fill="#0cec0c"/>
<rect x="1043" y="579" width="5" height="20" fill="#0cec0c"/>
<rect x="1051" y="577" width="5" height="22" fill="#0cec0c"/>
<rect x="1059" y="581" width="5" height="18" fill="#0cec0c"/>
<rect x="1067" y="584" width="5" height="15" fill="#0cec0c"/>
<rect x="1075" y="587" width="5" height="12" fill="#0cec0c"/>
<rect x="1083" y="590" width="5" height="9" fill="#0cec0c"/>
<rect x="1091" y="593" width="5" height="6" fill="#0cec0c"/>
<rect x="1099" y="594" width="5" height="5" fill="#0cec0c"/>
<rect x="1107" y="598" width="5" height="1" fill="#0cec0c"/>
<rect x="1115" y="598" width="5" height="5" fill="#0cec0c"/>
<rect x="1123" y="598" width="5" height="4" fill="#0cec0c"/>
<rect x="1131" y="598" width="5" height="2" fill="#0cec0c"/>
<rect x="1139" y="598" width="5" height="2" fill="#0cec0c"/>
<rect x="1147" y="598" width="5" height="3" fill="#0cec0c"/>
<rect x="1155" y="598" width="5" height="6" fill="#0cec0c"/>
<rect x="1163" y="598" width="5" height="6" fill="#0cec0c"/>
<rect x="1171" y="598" width="5" height="7" fill="#0cec0c"/>
<rect x="1179" y="598" width="5" height="8" fill="#0cec0c"/>
<rect x="1187" y="598" width="5" height="11" fill="#0cec0c"/>
<rect x="1195" y="598" width="5" height="17" fill="#0cec0c"/>
<rect x="1203" y="598" width="5" height="23" fill="#0cec0c"/>
<rect x="1211" y="598" width="5" height="28" fill="#0cec0c"/>
<polyline points="5,541 20,545 40,552 60,560 76,565 90,571 104,578 120,585.6 132,589 148,593 164,595 180,601 196,608 212,618 228,629 240,635 252,639 268,641.6 288,641.6 304,639.6 320,639.6 350,640.4 380,643 390,641 420,635 452,628.4 488,628.4 508,631 528,630.6 560,625.6 588,616.4 606,613 620,612.6 630,613 646,615.6 660,619 680,628 700,636 710,639 724,641 740,647 756,650.4 766,651 784,650 800,644.4 820,634 840,622 860,611 876,607 890,606 904,606 920,603.6 940,599 956,593 970,587 984,582 1000,578.6 1020,578.4 1040,579.2 1056,579 1070,581 1090,583.6 1106,586.6 1120,591 1140,595.6 1160,599 1180,602 1200,605.6 1213,609.6" fill="none" stroke="#e20c0c" stroke-width="3" stroke-linejoin="round" stroke-linecap="round" shape-rendering="geometricPrecision"/>
</g>
<g text-rendering="geometricPrecision">
<text x="9.2" y="552" fill="#000" stroke="#000" stroke-width="0.12" textLength="95.2" lengthAdjust="spacingAndGlyphs">MACD(12,26,9)</text>
<text x="109.0" y="552" fill="#000" stroke="#000" stroke-width="0.12" textLength="40.4" lengthAdjust="spacingAndGlyphs">-18.29</text>
<text x="154.6" y="552" fill="#000" stroke="#000" stroke-width="0.12" textLength="30.8" lengthAdjust="spacingAndGlyphs">-7.31</text>
</g>
<g fill="none" stroke="#000" stroke-width="1">
<rect x="4.5" y="4.5" width="1531" height="528"/>
<rect x="4.5" y="534.5" width="1531" height="126"/>
</g>
<rect x="1536" y="42" width="2" height="1" fill="#000"/>
<rect x="1536" y="107" width="2" height="1" fill="#000"/>
<rect x="1536" y="172" width="2" height="1" fill="#000"/>
<rect x="1536" y="237" width="2" height="1" fill="#000"/>
<rect x="1536" y="302" width="2" height="1" fill="#000"/>
<rect x="1536" y="367" width="2" height="1" fill="#000"/>
<rect x="1536" y="432" width="2" height="1" fill="#000"/>
<rect x="1536" y="497" width="2" height="1" fill="#000"/>
<rect x="1536" y="598" width="2" height="1" fill="#000"/>
<rect x="1536" y="536" width="1" height="1" fill="#000"/>
<rect x="1536" y="659" width="1" height="1" fill="#000"/>
<rect x="5" y="661" width="1" height="3" fill="#000"/>
<rect x="133" y="661" width="1" height="3" fill="#000"/>
<rect x="261" y="661" width="1" height="3" fill="#000"/>
<rect x="389" y="661" width="1" height="3" fill="#000"/>
<rect x="517" y="661" width="1" height="3" fill="#000"/>
<rect x="645" y="661" width="1" height="3" fill="#000"/>
<rect x="773" y="661" width="1" height="3" fill="#000"/>
<rect x="901" y="661" width="1" height="3" fill="#000"/>
<rect x="1029" y="661" width="1" height="3" fill="#000"/>
<rect x="1157" y="661" width="1" height="3" fill="#000"/>
<rect x="5" y="432" width="1532" height="4" fill="#ffa500"/>
<rect x="1535" y="432" width="2" height="1" fill="#000"/>
<g shape-rendering="geometricPrecision"><line x1="1210.6" y1="441.5" x2="1254.9" y2="517" stroke="#fd0c0c" stroke-width="6.6" stroke-linecap="round"/>
<polygon points="1272,546.8 1245,523 1264.8,511" fill="#fd0c0c"/></g>
<polygon points="1219.5,5 1235.5,5 1227.5,13.2" fill="#6f7d8c" shape-rendering="geometricPrecision"/>
<polygon points="8,12 19,12 13.5,18" fill="#000" shape-rendering="geometricPrecision"/>
<g id="axis-labels" text-rendering="geometricPrecision">
<text x="1542.2" y="48" fill="#000" stroke="#000" stroke-width="0.12" textLength="43.4" lengthAdjust="spacingAndGlyphs">4506.5</text>
<text x="1542.2" y="113" fill="#000" stroke="#000" stroke-width="0.12" textLength="43.4" lengthAdjust="spacingAndGlyphs">4444.0</text>
<text x="1542.2" y="178" fill="#000" stroke="#000" stroke-width="0.12" textLength="43.4" lengthAdjust="spacingAndGlyphs">4381.5</text>
<text x="1542.2" y="243" fill="#000" stroke="#000" stroke-width="0.12" textLength="43.4" lengthAdjust="spacingAndGlyphs">4319.0</text>
<text x="1542.2" y="308" fill="#000" stroke="#000" stroke-width="0.12" textLength="43.4" lengthAdjust="spacingAndGlyphs">4256.5</text>
<text x="1542.2" y="373" fill="#000" stroke="#000" stroke-width="0.12" textLength="43.4" lengthAdjust="spacingAndGlyphs">4194.0</text>
<text x="1542.2" y="503" fill="#000" stroke="#000" stroke-width="0.12" textLength="43.4" lengthAdjust="spacingAndGlyphs">4069.0</text>
<text x="1539.3" y="550" fill="#000" stroke="#000" stroke-width="0.12" textLength="27.4" lengthAdjust="spacingAndGlyphs">43.7</text>
<text x="1539.5" y="604" fill="#000" stroke="#000" stroke-width="0.12" textLength="27.0" lengthAdjust="spacingAndGlyphs">0.00</text>
<text x="1539.7" y="656" fill="#000" stroke="#000" stroke-width="0.12" textLength="40.1" lengthAdjust="spacingAndGlyphs">-42.32</text>
</g>
<rect x="1537" y="428" width="54" height="17" fill="#ffa500"/>
<rect x="1537" y="479" width="54" height="17" fill="#000"/>
<g id="labels2" text-rendering="geometricPrecision">
<text x="1541.8" y="442" fill="#fff" stroke="#fff" stroke-width="0.12" textLength="43.2" lengthAdjust="spacingAndGlyphs">4130.1</text>
<text x="1542.1" y="493" fill="#fff" stroke="#fff" stroke-width="0.12" textLength="43.6" lengthAdjust="spacingAndGlyphs">4078.8</text>
<text x="26.2" y="21" fill="#000" stroke="#000" stroke-width="0.12" textLength="88" lengthAdjust="spacingAndGlyphs">CHINA300-,H1</text>
<text x="123.6" y="21" fill="#000" stroke="#000" stroke-width="0.12" textLength="43.8" lengthAdjust="spacingAndGlyphs">4088.7</text>
<text x="171.5" y="21" fill="#000" stroke="#000" stroke-width="0.12" textLength="43.8" lengthAdjust="spacingAndGlyphs">4093.6</text>
<text x="219.4" y="21" fill="#000" stroke="#000" stroke-width="0.12" textLength="43.8" lengthAdjust="spacingAndGlyphs">4065.4</text>
<text x="267.3" y="21" fill="#000" stroke="#000" stroke-width="0.12" textLength="43.8" lengthAdjust="spacingAndGlyphs">4078.8</text>
<text x="4.4" y="678" fill="#000" stroke="#000" stroke-width="0.12" textLength="63.8" lengthAdjust="spacingAndGlyphs">4 Jul 2022</text>
<text x="132.3" y="678" fill="#000" stroke="#000" stroke-width="0.12" textLength="69.1" lengthAdjust="spacingAndGlyphs">8 Jul 01:30</text>
<text x="260.0" y="678" fill="#000" stroke="#000" stroke-width="0.12" textLength="76.6" lengthAdjust="spacingAndGlyphs">14 Jul 01:30</text>
<text x="388.5" y="678" fill="#000" stroke="#000" stroke-width="0.12" textLength="76.4" lengthAdjust="spacingAndGlyphs">20 Jul 01:30</text>
<text x="516.4" y="678" fill="#000" stroke="#000" stroke-width="0.12" textLength="76.6" lengthAdjust="spacingAndGlyphs">26 Jul 01:30</text>
<text x="644.4" y="678" fill="#000" stroke="#000" stroke-width="0.12" textLength="76.6" lengthAdjust="spacingAndGlyphs">1 Aug 01:30</text>
<text x="771.8" y="678" fill="#000" stroke="#000" stroke-width="0.12" textLength="77.0" lengthAdjust="spacingAndGlyphs">5 Aug 01:30</text>
<text x="900.3" y="678" fill="#000" stroke="#000" stroke-width="0.12" textLength="84.6" lengthAdjust="spacingAndGlyphs">11 Aug 01:30</text>
<text x="1028.2" y="678" fill="#000" stroke="#000" stroke-width="0.12" textLength="84.4" lengthAdjust="spacingAndGlyphs">17 Aug 01:30</text>
<text x="1156.3" y="678" fill="#000" stroke="#000" stroke-width="0.12" textLength="84.4" lengthAdjust="spacingAndGlyphs">23 Aug 01:30</text>
</g>
</svg>
</body></html>
